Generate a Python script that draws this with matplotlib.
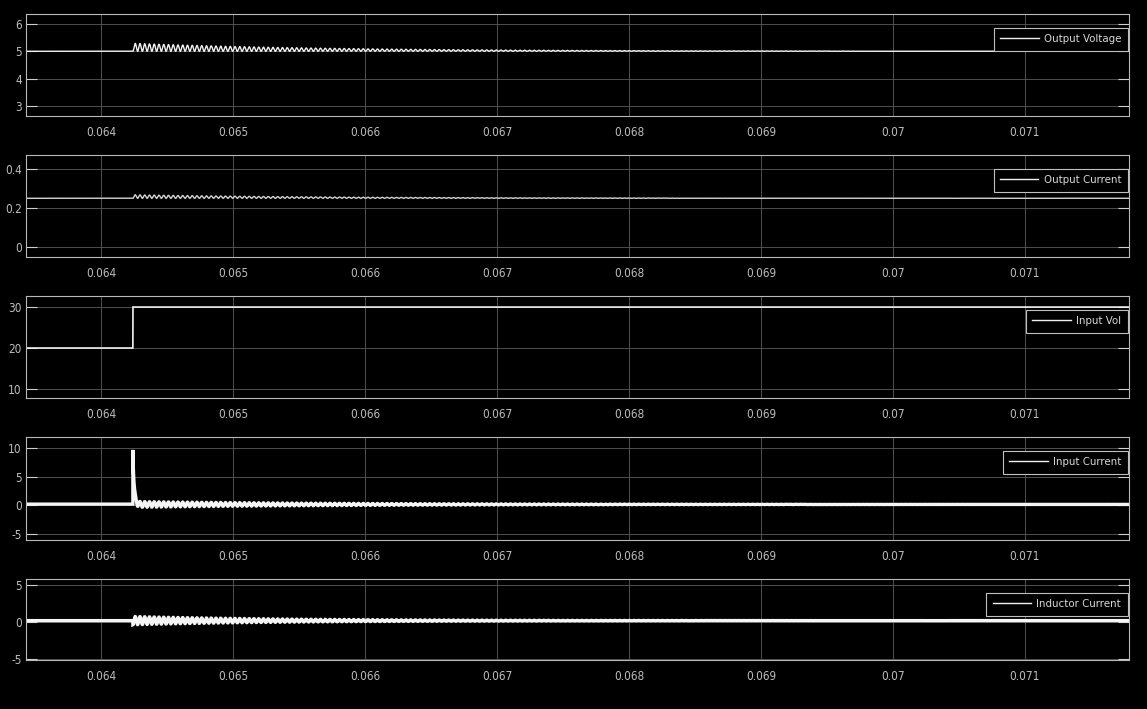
import numpy as np
import matplotlib
matplotlib.use("Agg")
import matplotlib.pyplot as plt

# ---- time axis -------------------------------------------------------------
t_start, t_end = 0.06343, 0.07179
x_ticks = [0.064, 0.065, 0.066, 0.067, 0.068, 0.069, 0.070, 0.071]
x_tick_labels = ["0.064", "0.065", "0.066", "0.067", "0.068", "0.069", "0.07", "0.071"]

# ---- converter measurements -------------------------------------------------
labels = ["Output Voltage", "Output Current", "Input Vol", "Input Current", "Inductor Current"]
step_time = 0.06424          # instant of the input-voltage step (s)
ripple_period = 3.6e-5       # period of the post-step ringing (s)

level_before = [5.0, 0.25, 20.0, 0.2, 0.2]
level_after = [5.0, 0.25, 30.0, 0.15, 0.2]
ripple_pp = [0.29, 0.018, 0.0, 1.0, 1.1]        # peak-to-peak ringing right after the step
ripple_bias = [1.0, 1.0, 0.0, 0.0, 0.0]          # 1: ringing sits above the level, 0: centred
ripple_tau = [1.5e-3, 1.5e-3, 1.0, 1.6e-3, 1.2e-3]
spike_peak = [0.0, 0.0, 0.0, 10.0, 0.0]
spike_tau = 9e-6

y_limits = [(2.64, 6.36), (-0.051, 0.472), (7.8, 32.7), (-6.05, 11.9), (-5.1, 5.8)]
y_ticks = [[3, 4, 5, 6], [0, 0.2, 0.4], [10, 20, 30], [-5, 0, 5, 10], [-5, 0, 5]]
y_tick_labels = [["3", "4", "5", "6"], ["0", "0.2", "0.4"], ["10", "20", "30"],
                 ["-5", "0", "5", "10"], ["-5", "0", "5"]]
line_widths = [1.0, 1.0, 1.2, 2.4, 2.4]
line_colors = ["#f2f2f2", "#d4d4d4", "#f2f2f2", "#f5f5f5", "#f5f5f5"]

# ---- figure ----------------------------------------------------------------
plt.rcParams["font.family"] = ["DejaVu Sans"]
plt.rcParams["font.stretch"] = "condensed"
fsize = 8.5

W, H = 1147, 709
fig = plt.figure(figsize=(W / 100, H / 100), dpi=100, facecolor="black")

# axes boxes in pixels: (top, bottom)
left_px, right_px = 26, 1129
boxes = [(14, 116), (155, 257), (296, 398), (437, 540), (579, 660)]

t = np.arange(t_start, t_end, 1e-7)
after = t >= step_time
dt = np.where(after, t - step_time, 0.0)

for i, (top, bot) in enumerate(boxes):
    ax = fig.add_axes([left_px / W, 1 - bot / H, (right_px - left_px) / W, (bot - top) / H])
    ax.set_facecolor("black")

    env = np.exp(-dt / ripple_tau[i])
    ring = 0.5 * ripple_pp[i] * env * (ripple_bias[i] - np.cos(2 * np.pi * dt / ripple_period))
    spike = spike_peak[i] * np.exp(-dt / spike_tau)
    y = np.where(after, level_after[i] + ring + spike, level_before[i])

    ax.plot(t, y, color=line_colors[i], lw=line_widths[i], label=labels[i], solid_joinstyle="miter")

    ax.set_xlim(t_start, t_end)
    ax.set_ylim(*y_limits[i])
    ax.set_xticks(x_ticks)
    ax.set_xticklabels(x_tick_labels)
    ax.set_yticks(y_ticks[i])
    ax.set_yticklabels(y_tick_labels[i])

    ax.grid(True, color="#5c5c5c", lw=0.6)
    for s in ax.spines.values():
        s.set_color("#b8b8b8")
        s.set_linewidth(0.8)
    ax.tick_params(axis="y", direction="in", length=8, width=0.8, color="#d0d0d0",
                   labelcolor="#bdbdbd", labelsize=fsize, pad=3, right=True)
    ax.tick_params(axis="x", direction="in", length=0, color="#d0d0d0",
                   labelcolor="#bdbdbd", labelsize=fsize, pad=7)

    h_px = bot - top
    leg = ax.legend(loc="upper right", bbox_to_anchor=(1 - 1.5 / (right_px - left_px), 1 - 14 / h_px),
                    borderaxespad=0, frameon=True, fancybox=False, framealpha=1,
                    facecolor="black", edgecolor="#c0c0c0", fontsize=8.2,
                    handlelength=3.4, handletextpad=0.45, borderpad=0.55)
    leg.get_frame().set_linewidth(0.8)
    for line in leg.get_lines():
        line.set_linewidth(1.0)
        line.set_color("#f0f0f0")
    for txt in leg.get_texts():
        txt.set_color("#d8d8d8")

fig.savefig("out.png", dpi=100, facecolor="black")
